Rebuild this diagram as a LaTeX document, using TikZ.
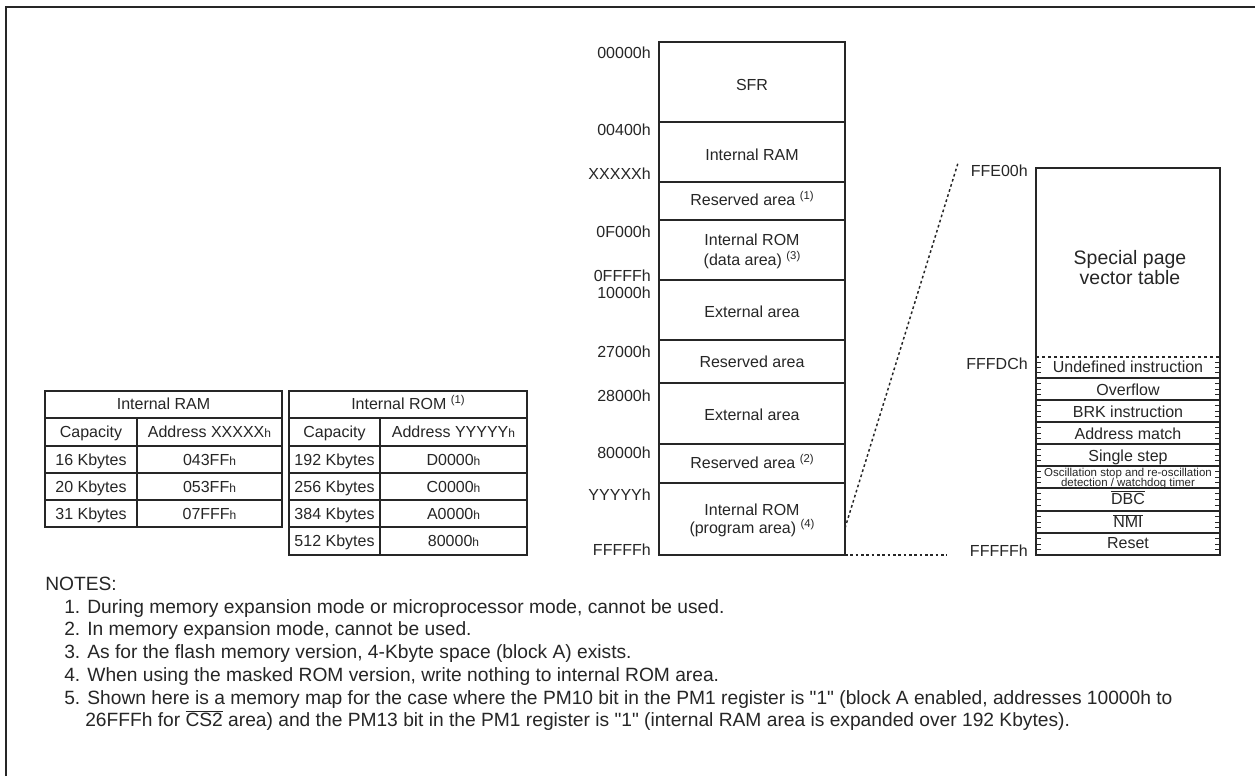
\documentclass[tikz,border=0pt]{standalone}
\usepackage{fontspec}
\setmainfont{Liberation Sans}
\newfontfamily\qfont{Liberation Sans}
\usetikzlibrary{calc}
\definecolor{ink}{HTML}{262626}
\newcommand\supn[1]{\raisebox{0.75ex}{\fontsize{8.5}{9}\selectfont(#1)}}
\newcommand\smh{{\fontsize{9}{10}\selectfont h}}
\newcommand\ovl[1]{$\overline{\mbox{#1}}$}
\newcommand\qone{{\qfont"1"}}
\begin{document}
\begin{tikzpicture}[x=0.75pt,y=-0.75pt,
  txt/.style={inner sep=0pt, text=ink, font=\fontsize{12}{15}\selectfont, text height=8.6pt, text depth=0pt},
  lbl/.style={txt, anchor=east},
  note/.style={txt, anchor=west, font=\fontsize{14.4}{17}\selectfont, text height=10.3pt},
  box/.style={draw=ink, line width=1pt},
  thin/.style={draw=ink, line width=0.6pt},
  dots/.style={draw=ink, line width=1.1pt, dash pattern=on 2pt off 2pt}]
\useasboundingbox (0,0) rectangle (1255,776);
\fill[white] (0,0) rectangle (1255,776);
\draw[ink, line width=1.6pt] (6,776) -- (6,7) -- (1255,7);

% ---------------- memory map ----------------
\draw[box] (659,42) rectangle (845,555);
\foreach \y in {122,182,220,280,340,383,444,483} \draw[box] (659,\y) -- (845,\y);
\node[lbl] (a0) at (651,53) {00000h};
\node[lbl] (a1) at (651,130) {00400h};
\node[lbl] (a2) at (651,174) {XXXXXh};
\node[lbl] (a3) at (651,232) {0F000h};
\node[lbl] (a4) at (651,276) {0FFFFh};
\node[lbl] (a5) at (651,293) {10000h};
\node[lbl] (a6) at (651,352) {27000h};
\node[lbl] (a7) at (651,396) {28000h};
\node[lbl] (a8) at (651,453) {80000h};
\node[lbl] (a9) at (651,495) {YYYYYh};
\node[lbl] (a10) at (651,550) {FFFFFh};

\node[txt] (m1) at (752,85) {SFR};
\node[txt] (m2) at (752,155) {Internal RAM};
\node[txt] (m3) at (752,200) {Reserved area \supn{1}};
\node[txt] (m4a) at (752,240) {Internal ROM};
\node[txt] (m4b) at (752,260) {(data area) \supn{3}};
\node[txt] (m5) at (752,312) {External area};
\node[txt] (m6) at (752,362) {Reserved area};
\node[txt] (m7) at (752,415) {External area};
\node[txt] (m8) at (752,463) {Reserved area \supn{2}};
\node[txt] (m9a) at (752,510) {Internal ROM};
\node[txt] (m9b) at (752,528) {(program area) \supn{4}};

% ---------------- vector table ----------------
\draw[box] (1036,168) rectangle (1220,555);
\draw[ink, line width=0.8pt, dash pattern=on 2.5pt off 2pt] (1036,357) -- (1220,357);
\foreach \y in {378,400,422,444,466,488,511,533} \draw[box] (1036,\y) -- (1220,\y);
\foreach \a/\b in {357/378,378/400,400/422,422/444,444/466,466/488,488/511,511/533,533/555}{
  \foreach \k in {1,2,3}{
    \draw[thin] (1036,{\a+(\b-\a)*\k/4}) -- ++(5,0);
    \draw[thin] (1220,{\a+(\b-\a)*\k/4}) -- ++(-5,0);
  }
}
\node[lbl] (v0) at (1028,171) {FFE00h};
\node[lbl] (v1) at (1028,364) {FFFDCh};
\node[lbl] (v2) at (1028,551) {FFFFFh};
\node[txt, font=\fontsize{14.6}{15}\selectfont, text height=10.5pt] (sp1) at (1130,257) {Special page};
\node[txt, font=\fontsize{14.6}{15}\selectfont, text height=10.5pt] (sp2) at (1130,277) {vector table};
\node[txt] (r1) at (1128,367) {Undefined instruction};
\node[txt] (r2) at (1128,390) {Overflow};
\node[txt] (r3) at (1128,412) {BRK instruction};
\node[txt] (r4) at (1128,434) {Address match};
\node[txt] (r5) at (1128,456) {Single step};
\node[txt, font=\fontsize{8.6}{9}\selectfont, text height=6.2pt] (r6a) at (1128,472) {Oscillation stop and re-oscillation};
\node[txt, font=\fontsize{8.6}{9}\selectfont, text height=6.2pt] (r6b) at (1128,482) {detection / watchdog timer};
\node[txt] (r7) at (1128,499) {\ovl{DBC}};
\node[txt] (r8) at (1128,522) {\ovl{NMI}};
\node[txt] (r9) at (1128,543) {Reset};

% ---------------- expansion lines ----------------
\coordinate (e1) at (845,528);
\coordinate (e2) at (958,163);
\coordinate (e3) at (845,555);
\coordinate (e4) at (947,555);
\draw[dots] (e1) -- (e2);
\draw[dots] (e3) -- (e4);

% ---------------- RAM table ----------------
\draw[box] (45,391) rectangle (282,527);
\foreach \y in {418,446,473,500} \draw[box] (45,\y) -- (282,\y);
\draw[box] (137,418) -- (137,527);
\node[txt] (t1h) at (163.5,404) {Internal RAM};
\node[txt] (t1a) at (91,432) {Capacity};
\node[txt] (t1b) at (209.5,432) {Address XXXXX\smh};
\node[txt] (t1c) at (91,459.5) {16 Kbytes};
\node[txt] (t1d) at (209.5,459.5) {043FF\smh};
\node[txt] (t1e) at (91,486.5) {20 Kbytes};
\node[txt] (t1f) at (209.5,486.5) {053FF\smh};
\node[txt] (t1g) at (91,513.5) {31 Kbytes};
\node[txt] (t1i) at (209.5,513.5) {07FFF\smh};

% ---------------- ROM table ----------------
\draw[box] (289,391) rectangle (527,555);
\foreach \y in {418,446,473,500,527} \draw[box] (289,\y) -- (527,\y);
\draw[box] (380,418) -- (380,555);
\node[txt] (t2h) at (408,404) {Internal ROM \supn{1}};
\node[txt] (t2a) at (334.5,432) {Capacity};
\node[txt] (t2b) at (453.5,432) {Address YYYYY\smh};
\node[txt] (t2c) at (334.5,459.5) {192 Kbytes};
\node[txt] (t2d) at (453.5,459.5) {D0000\smh};
\node[txt] (t2e) at (334.5,486.5) {256 Kbytes};
\node[txt] (t2f) at (453.5,486.5) {C0000\smh};
\node[txt] (t2g) at (334.5,513.5) {384 Kbytes};
\node[txt] (t2i) at (453.5,513.5) {A0000\smh};
\node[txt] (t2j) at (334.5,541) {512 Kbytes};
\node[txt] (t2k) at (453.5,541) {80000\smh};

% ---------------- notes ----------------
\node[note] (n0) at (45,584) {NOTES:};
\node[note] (n1) at (64,606.5) {1. During memory expansion mode or microprocessor mode, cannot be used.};
\node[note] (n2) at (64,629) {2. In memory expansion mode, cannot be used.};
\node[note] (n3) at (64,652) {3. As for the flash memory version, 4-Kbyte space (block A) exists.};
\node[note] (n4) at (64,675) {4. When using the masked ROM version, write nothing to internal ROM area.};
\node[note] (n5) at (64,697.5) {5. Shown here is a memory map for the case where the PM10 bit in the PM1 register is \qone{} (block A enabled, addresses 10000h to};
\node[note] (n6) at (85,720) {26FFFh for \ovl{CS2} area) and the PM13 bit in the PM1 register is \qone{} (internal RAM area is expanded over 192 Kbytes).};
\end{tikzpicture}
\end{document}
